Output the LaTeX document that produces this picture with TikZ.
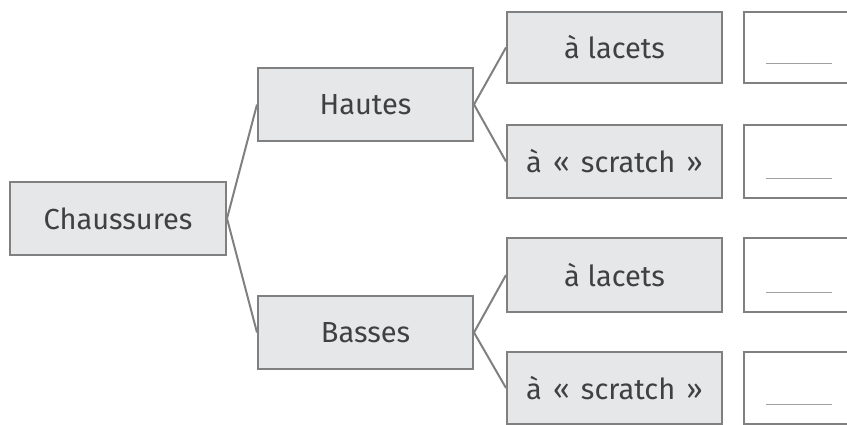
\documentclass[tikz,border=0pt]{standalone}
\usepackage{fontspec}
\setmainfont{Fira Sans}
\definecolor{boxfill}{HTML}{E6E7E8}
\definecolor{boxline}{HTML}{808080}
\definecolor{txt}{HTML}{404040}
\definecolor{blank}{HTML}{A0A0A0}
\newcommand{\gsp}{\hspace{3.5pt}}
\tikzset{
  catbox/.style={draw=boxline, fill=boxfill, line width=2pt, minimum width=215pt, inner sep=0pt, text=txt, font=\fontsize{29}{33}\selectfont},
  ansbox/.style={draw=boxline, fill=white, line width=2pt, minimum width=215pt, inner sep=0pt},
  link/.style={draw=boxline, line width=2pt},
  blankline/.style={draw=blank, line width=1pt}
}
\begin{document}
\begin{tikzpicture}[x=1pt,y=-1pt]
\useasboundingbox (0,0) rectangle (847,424);
\clip (0,0) rectangle (847,424);
\node[catbox, minimum width=216pt, minimum height=73pt] (C) at (118,218.5) {Chaussures};
\node[catbox, minimum height=73pt] (H) at (365.5,104.5) {Hautes};
\node[catbox, minimum height=73pt] (B) at (365.5,332.5) {Basses};
\node[catbox, minimum height=71pt] (L1) at (614.5,47.5) {à lacets};
\node[catbox, minimum height=73pt] (S1) at (614.5,161.5) {à \gsp{}« \gsp{}scratch \gsp{}»};
\node[catbox, minimum height=74pt] (L2) at (614.5,275) {à lacets};
\node[catbox, minimum height=72pt] (S2) at (614.5,388) {à \gsp{}« \gsp{}scratch \gsp{}»};
\node[ansbox, minimum height=71pt] (A1) at (851.5,47.5) {};
\node[ansbox, minimum height=73pt] (A2) at (851.5,161.5) {};
\node[ansbox, minimum height=74pt] (A3) at (851.5,275) {};
\node[ansbox, minimum height=72pt] (A4) at (851.5,388) {};
\foreach \a in {A1,A2,A3,A4} {
  \draw[blankline] ([xshift=23pt]\a.south west) ++(0,-21) coordinate (\a p) -- ++(66,0);
}
\draw[link] (C.east) -- (H.west);
\draw[link] (C.east) -- (B.west);
\draw[link] (H.east) -- (L1.west);
\draw[link] (H.east) -- (S1.west);
\draw[link] (B.east) -- (L2.west);
\draw[link] (B.east) -- (S2.west);
\end{tikzpicture}
\end{document}
